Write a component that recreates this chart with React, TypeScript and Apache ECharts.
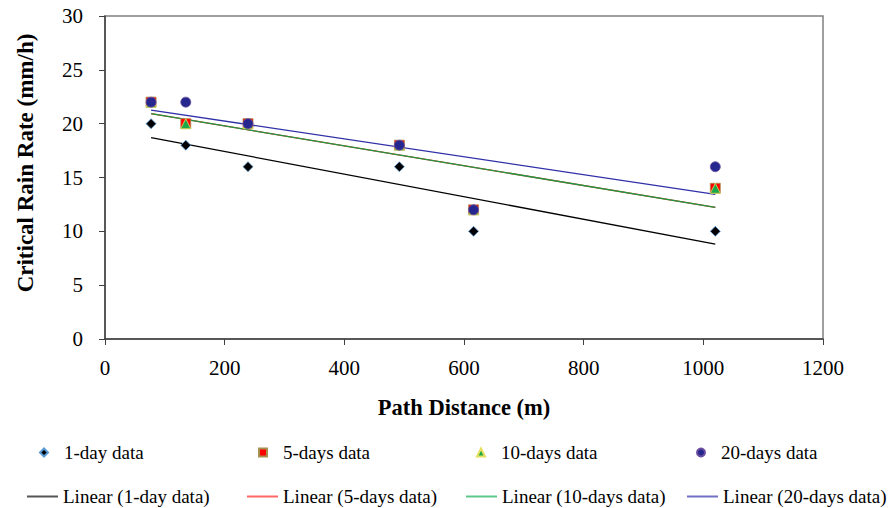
import React, { useEffect, useRef } from "react";
import * as echarts from "echarts";

const pathDistance = [77, 135, 239, 492, 616, 1020];
const oneDay = [20, 18, 16, 16, 10, 10];
const fiveDays = [22, 20, 20, 18, 12, 14];
const tenDays = [22, 20, 20, 18, 12, 14];
const twentyDays = [22, 22, 20, 18, 12, 16];

const scatterNames = ["1-day data", "5-days data", "10-days data", "20-days data"];
const lineNames = [
  "Linear (1-day data)",
  "Linear (5-days data)",
  "Linear (10-days data)",
  "Linear (20-days data)",
];

const FONT = "Liberation Serif";

function pairs(xs: number[], ys: number[]) {
  return xs.map((x, i) => [x, ys[i]]);
}

function trend(xs: number[], ys: number[]) {
  const n = xs.length;
  const mx = xs.reduce((a, b) => a + b, 0) / n;
  const my = ys.reduce((a, b) => a + b, 0) / n;
  let sxy = 0;
  let sxx = 0;
  for (let i = 0; i < n; i++) {
    sxy += (xs[i] - mx) * (ys[i] - my);
    sxx += (xs[i] - mx) * (xs[i] - mx);
  }
  const b = sxy / sxx;
  const a = my - b * mx;
  const x0 = Math.min(...xs);
  const x1 = Math.max(...xs);
  return [
    [x0, a + b * x0],
    [x1, a + b * x1],
  ];
}

export default function App() {
  const ref = useRef<HTMLDivElement>(null);
  useEffect(() => {
    if (!ref.current) return;
    const chart = echarts.init(ref.current, null, { renderer: "svg" });
    const scatterStyles = [
      { symbol: "diamond", size: 10, color: "#000000", border: "#5b9bd5" },
      { symbol: "rect", size: 10, color: "#ff0000", border: "#a89050" },
      { symbol: "triangle", size: 10, color: "#1aa84a", border: "#e6e060" },
      { symbol: "circle", size: 10, color: "#26268f", border: "#6a4ea0" },
    ];
    const datasets = [oneDay, fiveDays, tenDays, twentyDays];
    const lineColors = ["#000000", "#ff2020", "#1a9a40", "#3030a8"];
    const legendLineColors = ["#555555", "#ff6666", "#5cc98a", "#7070c4"];

    const scatterSeries = datasets.map((d, i) => ({
      type: "scatter",
      name: scatterNames[i],
      symbol: scatterStyles[i].symbol,
      symbolSize: scatterStyles[i].size,
      itemStyle: {
        color: scatterStyles[i].color,
        borderColor: scatterStyles[i].border,
        borderWidth: 0.8,
        opacity: 1,
      },
      data: pairs(pathDistance, d),
      z: 3,
    }));
    const lineSeries = datasets.map((d, i) => ({
      type: "line",
      name: lineNames[i],
      symbol: "none",
      color: lineColors[i],
      lineStyle: { color: lineColors[i], width: 1.3 },
      itemStyle: { color: lineColors[i] },
      data: trend(pathDistance, d),
      z: 2,
    }));

    const rowOneCenter = [43, 262, 480, 700];
    const rowTwoLeft = [27, 247, 466, 687];
    const legends: any[] = [];
    scatterNames.forEach((n, i) => {
      legends.push({
        data: [n],
        left: rowOneCenter[i] - 4,
        top: 443,
        padding: 0,
        itemWidth: 8,
        itemHeight: 8,
        selectedMode: false,
        textStyle: {
          fontFamily: FONT,
          fontSize: 19,
          color: "#000",
          padding: [0, 0, 0, 11],
        },
      });
    });
    lineNames.forEach((n, i) => {
      legends.push({
        data: [{ name: n, icon: "rect", itemStyle: { color: legendLineColors[i] } }],
        left: rowTwoLeft[i],
        top: 487,
        padding: 0,
        itemWidth: 31,
        itemHeight: 2,
        selectedMode: false,
        textStyle: { fontFamily: FONT, fontSize: 19, color: "#000" },
      });
    });

    chart.setOption({
      animation: false,
      backgroundColor: "#ffffff",
      textStyle: { fontFamily: FONT },
      grid: {
        left: 105,
        right: 67,
        top: 16,
        bottom: 169,
        show: true,
        borderColor: "#808080",
        borderWidth: 1.5,
      },
      legend: legends,
      xAxis: {
        type: "value",
        min: 0,
        max: 1200,
        interval: 200,
        name: "Path Distance (m)",
        nameLocation: "middle",
        nameGap: 57,
        nameTextStyle: { fontFamily: FONT, fontSize: 22.5, fontWeight: "bold", color: "#000" },
        axisLine: { show: true, lineStyle: { color: "#404040", width: 1.5 } },
        axisTick: { show: true, length: 6, lineStyle: { color: "#404040", width: 1 } },
        axisLabel: {
          margin: 18,
          fontFamily: FONT,
          fontSize: 21,
          color: "#000",
          formatter: (v: number) => String(v),
        },
        splitLine: { show: false },
      },
      yAxis: {
        type: "value",
        min: 0,
        max: 30,
        interval: 5,
        name: "Critical Rain Rate (mm/h)",
        nameLocation: "middle",
        nameGap: 68,
        nameTextStyle: {
          fontFamily: FONT,
          fontSize: 23,
          fontWeight: "bold",
          color: "#000",
          padding: [0, 0, 0, 29],
        },
        axisLine: { show: true, lineStyle: { color: "#404040", width: 1.5 } },
        axisTick: { show: true, length: 6, lineStyle: { color: "#404040", width: 1 } },
        axisLabel: {
          margin: 22,
          fontFamily: FONT,
          fontSize: 21,
          color: "#000",
          formatter: (v: number) => String(v),
        },
        splitLine: { show: false },
      },
      series: [...lineSeries, ...scatterSeries],
    });
    return () => chart.dispose();
  }, []);
  return <div ref={ref} style={{ width: 890, height: 508, position: "absolute", left: 0, top: 0 }} />;
}
